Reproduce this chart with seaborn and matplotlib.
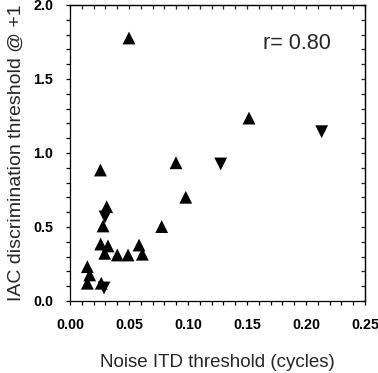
import numpy as np
import pandas as pd
import matplotlib
matplotlib.use("Agg")
import matplotlib.pyplot as plt
from matplotlib.ticker import MultipleLocator, FormatStrFormatter
import seaborn as sns

# Data
up_x = [0.0258, 0.0500, 0.1517, 0.0898, 0.0981, 0.0777, 0.0311, 0.0280, 0.0260,
        0.0322, 0.0294, 0.0401, 0.0492, 0.0585, 0.0613, 0.0147, 0.0167, 0.0147, 0.0265]
up_y = [0.885, 1.777, 1.236, 0.934, 0.701, 0.503, 0.637, 0.507, 0.385,
        0.372, 0.322, 0.311, 0.311, 0.378, 0.316, 0.232, 0.176, 0.120, 0.120]
down_x = [0.2133, 0.1277, 0.0297, 0.0288]
down_y = [1.144, 0.926, 0.568, 0.088]

x_ticks = [0.00, 0.05, 0.10, 0.15, 0.20, 0.25]
y_ticks = [0.0, 0.5, 1.0, 1.5, 2.0]
annotation = "r= 0.80"

df = pd.DataFrame({
    "x": up_x + down_x,
    "y": up_y + down_y,
    "dir": ["up"] * len(up_x) + ["down"] * len(down_x),
})

sns.set_style("ticks")
plt.rcParams["font.family"] = ["Liberation Sans", "DejaVu Sans"]

fig = plt.figure(figsize=(3.78, 3.73), dpi=100)
ax = fig.add_axes([70 / 378, 1 - 301 / 373, (365 - 70) / 378, (301 - 5) / 373])

sns.scatterplot(data=df, x="x", y="y", style="dir",
                markers={"up": "^", "down": "v"}, color="black",
                s=85, linewidth=0, legend=False, ax=ax)

ax.set_xlim(0, 0.25)
ax.set_ylim(0, 2.0)
ax.set_xticks(x_ticks)
ax.set_yticks(y_ticks)
ax.xaxis.set_major_formatter(FormatStrFormatter("%.2f"))
ax.yaxis.set_major_formatter(FormatStrFormatter("%.1f"))
ax.xaxis.set_minor_locator(MultipleLocator(0.01))
ax.yaxis.set_minor_locator(MultipleLocator(0.1))

for sp in ax.spines.values():
    sp.set_visible(True)
    sp.set_linewidth(0.9)
    sp.set_color("black")

ax.tick_params(axis="x", which="both", direction="out", length=3, width=0.9,
               colors="black", labelsize=10.3, pad=9)
ax.tick_params(axis="y", which="both", direction="out", length=3, width=0.9,
               colors="black", labelsize=10.3, pad=9)
for lab in ax.get_xticklabels() + ax.get_yticklabels():
    lab.set_fontweight("bold")

# inward ticks on top and right
top = ax.secondary_xaxis("top")
top.set_xticks(x_ticks)
top.xaxis.set_minor_locator(MultipleLocator(0.01))
top.tick_params(axis="x", which="both", direction="in", length=3, width=0.9,
                labeltop=False)
top.spines["top"].set_linewidth(0.9)
right = ax.secondary_yaxis("right")
right.set_yticks(y_ticks)
right.yaxis.set_minor_locator(MultipleLocator(0.1))
right.tick_params(axis="y", which="both", direction="in", length=3, width=0.9,
                  labelright=False)
right.spines["right"].set_linewidth(0.9)

ax.set_xlabel("Noise ITD threshold (cycles)", fontsize=13.5, labelpad=16)
ax.set_ylabel("IAC discrimination threshold @ +1", fontsize=14, labelpad=6)

ax.text(0.1636, 1.743, annotation, fontsize=15.5, ha="left", va="center")

fig.savefig("out.png", dpi=100)
